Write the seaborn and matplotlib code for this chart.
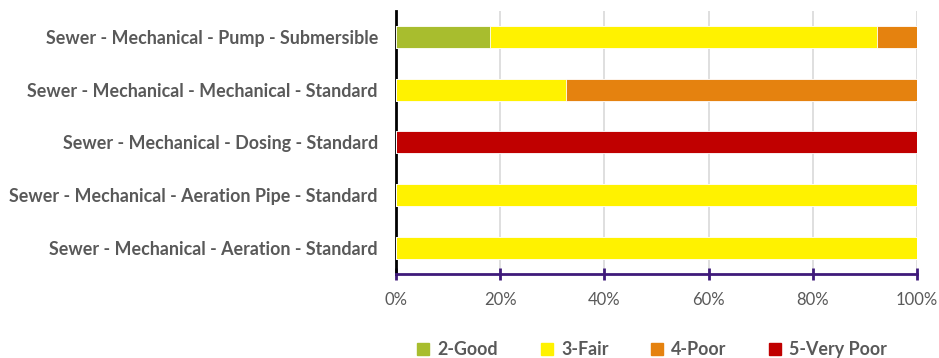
import matplotlib
matplotlib.use("Agg")
import matplotlib.pyplot as plt
import seaborn as sns
import pandas as pd
import numpy as np
from matplotlib.lines import Line2D

categories = [
    "Sewer - Mechanical - Pump - Submersible",
    "Sewer - Mechanical - Mechanical - Standard",
    "Sewer - Mechanical - Dosing - Standard",
    "Sewer - Mechanical - Aeration Pipe - Standard",
    "Sewer - Mechanical - Aeration - Standard",
]
series_names = ["2-Good", "3-Fair", "4-Poor", "5-Very Poor"]
good = [0.18, 0.0, 0.0, 0.0, 0.0]
fair = [0.743, 0.326, 0.0, 1.0, 1.0]
poor = [0.077, 0.674, 0.0, 0.0, 0.0]
very_poor = [0.0, 0.0, 1.0, 0.0, 0.0]
colors = ["#A8BD2E", "#FFF200", "#E5820F", "#C00000"]
xticks = [0, 0.2, 0.4, 0.6, 0.8, 1.0]
xtick_labels = ["0%", "20%", "40%", "60%", "80%", "100%"]

sns.set_style("white")
plt.rcParams["font.family"] = ["Lato", "DejaVu Sans"]

cum = np.cumsum(np.array([good, fair, poor, very_poor]), axis=0)

fig = plt.figure(figsize=(9.39, 3.58), dpi=100)
ax = fig.add_axes([0.4217, 0.2346, 0.5549, 0.7354])

for i in range(3, -1, -1):
    d = pd.DataFrame({"cat": categories, "val": cum[i]})
    sns.barplot(data=d, x="val", y="cat", orient="h", color=colors[i],
                saturation=1, width=0.42, edgecolor="#FFFFFF", linewidth=0.6,
                ax=ax, zorder=3)

ax.set_xlim(0, 1.0)
ax.set_ylim(4.5, -0.5)
ax.set_xticks(xticks)
ax.set_xticklabels(xtick_labels, fontsize=12, color="#595959")
ax.set_xlabel("")
ax.set_ylabel("")
ax.tick_params(axis="y", length=0, pad=13)
for lab in ax.get_yticklabels():
    lab.set_fontsize(12.9)
    lab.set_fontweight("bold")
    lab.set_color("#595959")
ax.tick_params(axis="x", bottom=True, direction="inout", length=8, width=2,
               color="#3F1A7A", pad=9)
ax.grid(axis="x", color="#D9D9D9", linewidth=1.2, zorder=0)
ax.set_axisbelow(True)
for s in ["top", "right"]:
    ax.spines[s].set_visible(False)
ax.spines["left"].set_color("#000000")
ax.spines["left"].set_linewidth(2)
ax.spines["bottom"].set_color("#3F1A7A")
ax.spines["bottom"].set_linewidth(2)

handles = [Line2D([0], [0], marker="s", linestyle="none", markersize=8,
                  markerfacecolor=c, markeredgecolor=c) for c in colors]
leg = fig.legend(handles, series_names, loc="lower center", ncol=4,
                 bbox_to_anchor=(0.694, -0.046), frameon=False,
                 handlelength=0.8, handletextpad=0.4, columnspacing=2.3,
                 prop={"size": 12.9, "weight": "bold"})
for t in leg.get_texts():
    t.set_color("#595959")

fig.savefig("out.png", dpi=100)
